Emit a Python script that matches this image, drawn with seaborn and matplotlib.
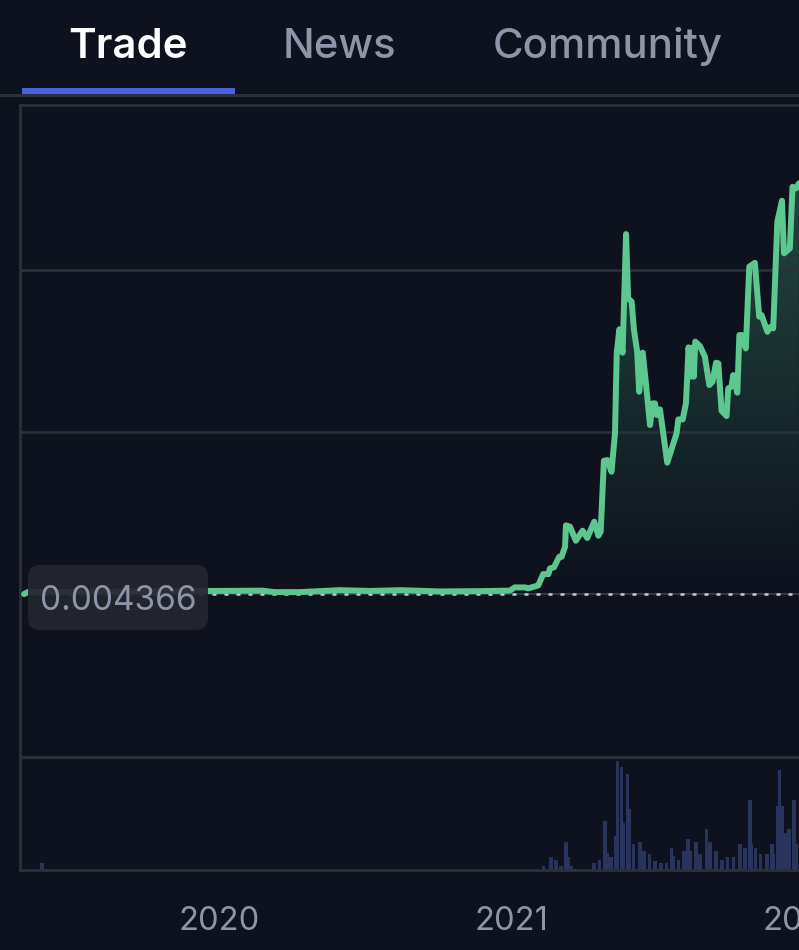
import matplotlib
matplotlib.use("Agg")
import matplotlib.pyplot as plt
from matplotlib.patches import FancyBboxPatch, Rectangle
from matplotlib.colors import LinearSegmentedColormap
from matplotlib.transforms import Affine2D
import numpy as np
import pandas as pd
import seaborn as sns

# price curve, decimal years against height above the reference price (grid steps)
price_dates = [
    2019.332, 2019.345, 2019.96, 2020.07, 2020.147, 2020.19, 2020.277, 2020.414, 2020.517, 2020.62,
    2020.757, 2020.894, 2020.962, 2020.996, 2021.013, 2021.048, 2021.059, 2021.093, 2021.110, 2021.128,
    2021.133, 2021.147, 2021.165, 2021.173, 2021.185, 2021.188, 2021.202, 2021.222, 2021.245, 2021.261,
    2021.285, 2021.299, 2021.307, 2021.318, 2021.330, 2021.344, 2021.356, 2021.362, 2021.371, 2021.382,
    2021.394, 2021.401, 2021.413, 2021.421, 2021.432, 2021.439, 2021.451, 2021.462, 2021.476, 2021.485,
    2021.493, 2021.499, 2021.510, 2021.535, 2021.567, 2021.573, 2021.588, 2021.599, 2021.608, 2021.615,
    2021.622, 2021.626, 2021.631, 2021.647, 2021.664, 2021.679, 2021.690, 2021.702, 2021.710, 2021.721,
    2021.738, 2021.744, 2021.755, 2021.761, 2021.775, 2021.782, 2021.790, 2021.804, 2021.816, 2021.835,
    2021.850, 2021.858, 2021.878, 2021.889, 2021.898, 2021.912, 2021.928, 2021.935, 2021.955, 2021.964,
    2021.976, 2021.986,
]
price_values = [
    0.0, 0.012, 0.019, 0.02, 0.021, 0.012, 0.012, 0.024, 0.019, 0.024,
    0.016, 0.018, 0.02, 0.021, 0.041, 0.041, 0.035, 0.053, 0.123, 0.123,
    0.158, 0.165, 0.230, 0.230, 0.292, 0.424, 0.416, 0.329, 0.391, 0.346,
    0.447, 0.360, 0.385, 0.823, 0.827, 0.755, 0.992, 1.490, 1.634, 1.490,
    2.222, 1.825, 1.805, 1.630, 1.496, 1.249, 1.490, 1.300, 1.043, 1.177,
    1.177, 1.105, 1.140, 0.811, 0.992, 1.078, 1.078, 1.177, 1.523, 1.342,
    1.523, 1.342, 1.558, 1.531, 1.465, 1.290, 1.311, 1.428, 1.424, 1.132,
    1.099, 1.270, 1.280, 1.352, 1.243, 1.599, 1.599, 1.516, 2.021, 2.045,
    1.712, 1.722, 1.619, 1.650, 1.640, 2.298, 2.428, 2.103, 2.134, 2.514,
    2.504, 2.535,
]

volume_dates = [
    2019.394, 2021.111, 2021.136, 2021.154, 2021.170, 2021.189, 2021.194, 2021.205, 2021.284, 2021.303,
    2021.321, 2021.328, 2021.342, 2021.360, 2021.365, 2021.378, 2021.385, 2021.399, 2021.403, 2021.419,
    2021.442, 2021.456, 2021.474, 2021.493, 2021.513, 2021.533, 2021.550, 2021.556, 2021.573, 2021.593,
    2021.607, 2021.615, 2021.633, 2021.647, 2021.670, 2021.682, 2021.702, 2021.722, 2021.741, 2021.762,
    2021.784, 2021.802, 2021.819, 2021.824, 2021.837, 2021.855, 2021.876, 2021.894, 2021.899, 2021.915,
    2021.919, 2021.930, 2021.938, 2021.953, 2021.969, 2021.978,
]
volume_values = [
    0.06, 0.035, 0.118, 0.088, 0.035, 0.248, 0.118, 0.035, 0.065, 0.088,
    0.437, 0.147, 0.118, 0.301, 0.962, 0.914, 0.413, 0.850, 0.543, 0.227,
    0.248, 0.168, 0.139, 0.080, 0.059, 0.065, 0.198, 0.124, 0.088, 0.168,
    0.277, 0.168, 0.248, 0.139, 0.360, 0.248, 0.168, 0.088, 0.118, 0.118,
    0.227, 0.198, 0.619, 0.227, 0.198, 0.139, 0.139, 0.227, 0.139, 0.566,
    0.885, 0.566, 0.331, 0.360, 0.619, 0.227,
]

year_ticks = [2020, 2021, 2022]
tab_labels = ["Trade", "News", "Community"]
price_label = "0.004366"

BG = "#0d121e"
EDGE = "#2c303b"
GREEN = "#5cc890"
MUTED = "#8f94a8"

W, H = 799, 950
sns.set_theme(style="dark", rc={"axes.facecolor": BG, "figure.facecolor": BG, "axes.grid": False})
plt.rcParams["font.family"] = ["Inter", "DejaVu Sans"]

fig = plt.figure(figsize=(W / 100, H / 100), dpi=100)
px = Affine2D().scale(1 / W, -1 / H).translate(0, 1) + fig.transFigure

# axes run past the right edge so the 2022 label gets cut by the figure
left, right = 20, 843
ax = fig.add_axes([left / W, 1 - 757 / H, (right - left) / W, (757 - 105) / H])
vol_ax = fig.add_axes([left / W, 1 - 870 / H, (right - left) / W, (870 - 757) / H])
vol_ax.patch.set_visible(False)

xlim = (2019.318, 2022.137)
ylim = (-1.006, 3.019)

df = pd.DataFrame({"date": price_dates, "price": price_values})

# vertical fade under the line
fade = LinearSegmentedColormap.from_list("fade", [(0.36, 0.78, 0.56, 0.0), (0.36, 0.78, 0.56, 0.30)])
img = ax.imshow(np.linspace(1, 0, 256).reshape(-1, 1), cmap=fade, vmin=0, vmax=1, aspect="auto",
                extent=(xlim[0], xlim[1], 0, 2.6), zorder=1)
area = ax.fill_between(df["date"], df["price"], 0, color="none", lw=0)
clip = area.get_paths()[0]
img.set_clip_path(clip, ax.transData)

for level in [1, 2]:
    ax.axhline(level, color=EDGE, lw=1.9, zorder=2)
ax.axhline(0, color="#343844", lw=1.5, zorder=2)
ax.axhline(0, color="#c9ccd4", lw=1.8, ls=(0, (1.6, 3.2)), zorder=2.5)

sns.lineplot(data=df, x="date", y="price", ax=ax, color=GREEN, lw=4.3, estimator=None,
             errorbar=None, zorder=3, solid_joinstyle="round")
ax.set_xlim(xlim)
ax.set_ylim(ylim)
ax.set(xlabel="", ylabel="", xticks=[], yticks=[])

vol_ax.bar(volume_dates, volume_values, width=0.0125, color="#2b3660", alpha=0.95, lw=0)
vol_ax.set_xlim(xlim)
vol_ax.set_ylim(0, 1)
vol_ax.set(xlabel="", ylabel="", yticks=[])
vol_ax.set_xticks(year_ticks)
vol_ax.set_xticklabels([str(y) for y in year_ticks], color=MUTED, fontsize=23.5)
vol_ax.tick_params(axis="x", length=0, pad=26)

for a, sides in [(ax, ("left", "top", "bottom")), (vol_ax, ("left", "bottom"))]:
    for name, spine in a.spines.items():
        spine.set_visible(name in sides)
        spine.set_color(EDGE)
        spine.set_linewidth(2.0)

# tab bar
fig.add_artist(Rectangle((0, 94), W, 2.5, transform=px, color=EDGE, lw=0))
fig.add_artist(Rectangle((22, 88), 213, 6, transform=px, color="#4a62e0", lw=0))
for label, cx, col, weight in zip(tab_labels, [128.5, 339, 607.5], ["white", MUTED, MUTED], [600, 500, 500]):
    fig.text(cx, 47, label, transform=px, ha="center", va="center", color=col, fontsize=30.2, fontweight=weight)

# current price pill
fig.add_artist(FancyBboxPatch((28, 565), 180, 65, transform=px, boxstyle="round,pad=0,rounding_size=12",
                              fc="#23252f", ec="none", alpha=0.93, zorder=5))
fig.text(118, 601, price_label, transform=px, ha="center", va="center", color=MUTED, fontsize=24, zorder=6)

fig.savefig("out.png", dpi=100, facecolor=BG)
